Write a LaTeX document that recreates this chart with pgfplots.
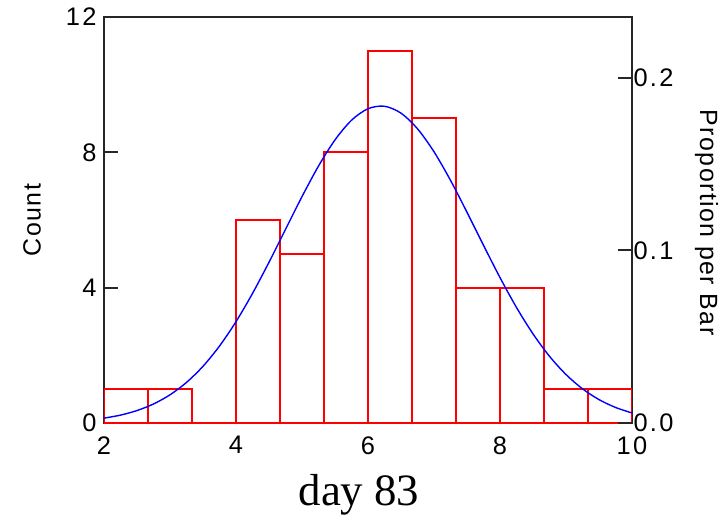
\documentclass[border=0pt]{standalone}
\usepackage{fontspec}
\setmainfont{Liberation Sans}
\newfontfamily\ticksans[LetterSpace=9]{Liberation Sans}
\newfontfamily\labsans[LetterSpace=6]{Liberation Sans}
\newfontfamily\serifface{Liberation Serif}
\usepackage{pgfplots}
\pgfplotsset{compat=1.18}

\begin{document}
\begin{tikzpicture}
\path[use as bounding box] (-104bp,-96bp) rectangle (622bp,423bp);
\begin{axis}[
  at={(0,0)}, anchor=south west,
  scale only axis, width=528bp, height=406bp,
  xmin=2, xmax=10, ymin=0, ymax=12,
  xtick={2,4,6,8,10}, ytick={0,4,8,12},
  xtick pos=bottom, ytick pos=left,
  tick align=inside,
  major tick length=14bp,
  axis line style={line width=2bp, black!85},
  tick style={line width=2bp, black!85},
  /pgf/number format/assume math mode=true,
  tick label style={font=\ticksans\fontsize{25.5}{25.5}\selectfont, black},
  xticklabel style={yshift=-10bp},
  yticklabel style={xshift=-4bp},
  xlabel={day 83},
  xlabel style={at={(axis description cs:0.483,0)}, anchor=base, yshift=-82bp, font=\serifface\fontsize{45}{45}\selectfont},
  ylabel={Count},
  ylabel style={at={(axis description cs:-0.1364,0.5)}, anchor=center, font=\labsans\fontsize{25}{25}\selectfont},
]
\addplot[ybar interval, draw=red, line width=2bp, fill=none] coordinates {
(2,1) (2.6667,1) (3.3333,0) (4,6) (4.6667,5) (5.3333,8) (6,11) (6.6667,9) (7.3333,4) (8,4) (8.6667,1) (9.3333,1) (10,1)
};
\addplot[blue, line width=1.4bp, smooth, mark=none] coordinates {
(2,0.144) (2.25,0.233) (2.5,0.368) (2.75,0.562) (3,0.833) (3.25,1.199) (3.5,1.676) (3.75,2.274)
(4,2.995) (4.25,3.829) (4.5,4.751) (4.75,5.722) (5,6.691) (5.25,7.594) (5.5,8.367) (5.75,8.948)
(6,9.290) (6.25,9.362) (6.5,9.158) (6.75,8.696) (7,8.017) (7.25,7.173) (7.5,6.230) (7.75,5.253)
(8,4.299) (8.25,3.415) (8.5,2.634) (8.75,1.972) (9,1.433) (9.25,1.011) (9.5,0.692) (9.75,0.460) (10,0.297)
};
\end{axis}
\begin{axis}[
  at={(0,0)}, anchor=south west,
  scale only axis, width=528bp, height=406bp,
  xmin=2, xmax=10, ymin=0, ymax=0.235294,
  hide x axis, axis y line*=right,
  y axis line style={draw=none},
  ytick={0,0.1,0.2}, yticklabels={0.0,0.1,0.2},
  tick align=inside, major tick length=14bp,
  tick style={line width=2bp, black!85},
  tick label style={font=\ticksans\fontsize{25.5}{25.5}\selectfont, black},
  yticklabel style={xshift=-2bp},
  ylabel={Proportion per Bar},
  ylabel style={at={(axis description cs:1.1414,0.494)}, anchor=center, rotate=180, font=\labsans\fontsize{25}{25}\selectfont},
]
\end{axis}
\end{tikzpicture}
\end{document}
